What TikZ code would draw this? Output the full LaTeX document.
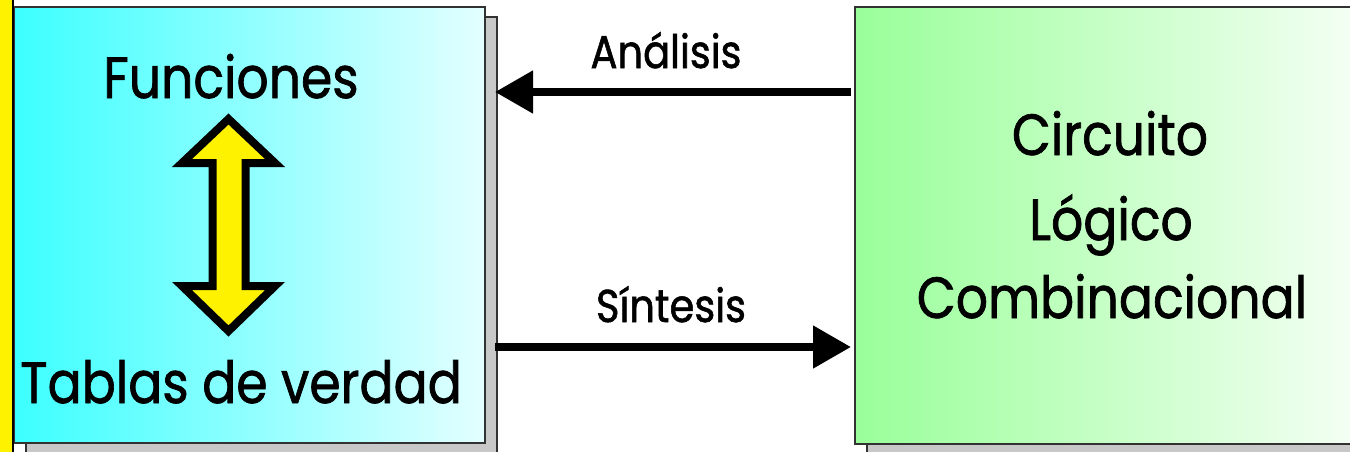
\documentclass[tikz,border=0pt]{standalone}
\usepackage{fontspec}
\setmainfont{Poppins}[FakeStretch=0.87,FakeBold=1.2]
\usetikzlibrary{arrows.meta,backgrounds,calc}
\definecolor{cyanL}{RGB}{60,255,255}
\definecolor{cyanR}{RGB}{228,255,255}
\definecolor{greenL}{RGB}{153,255,153}
\definecolor{greenR}{RGB}{252,255,252}
\definecolor{shadowgray}{RGB}{200,200,200}
\definecolor{boxline}{RGB}{50,50,50}
\begin{document}
\begin{tikzpicture}[x=1pt,y=-1pt,
  box/.style={draw=boxline, line width=1.2pt, anchor=north west, inner sep=0pt, outer sep=0pt},
  shadowbox/.style={fill=shadowgray, draw=boxline, line width=1.2pt},
  bigarrow/.style={line width=8pt, -{Triangle[length=38pt,width=41pt]}},
  bigtext/.style={font=\fontsize{58}{70}\selectfont, anchor=base, inner sep=0pt},
  smalltext/.style={font=\fontsize{46}{54}\selectfont, anchor=base, inner sep=0pt},
  bararrow/.style={fill=yellow, draw=black, line width=8pt, miter limit=10}]
\useasboundingbox (0,0) rectangle (1350,451);
\clip (0,0) rectangle (1350,451);
\node[box, minimum width=471pt, minimum height=436pt, left color=cyanL, right color=cyanR] (lbox) at (14,7) {};
\node[box, minimum width=545pt, minimum height=437pt, left color=greenL, right color=greenR] (rbox) at (855,7) {};
\begin{scope}[on background layer]
 \filldraw[shadowbox] ([shift={(12,10)}]lbox.north west) rectangle ([shift={(12,10)}]lbox.south east);
 \filldraw[shadowbox] ([shift={(12,10)}]rbox.north west) rectangle ([shift={(12,10)}]rbox.south east);
\end{scope}
\node[bigtext] (fun) at (231,98) {Funciones};
\node[bigtext, anchor=base east] (tab) at (462,403) {Tablas de verdad};
\node[bigtext] (c1) at (1110,155) {Circuito};
\node[bigtext] (c2) at (1111,240) {Lógico};
\node[bigtext] (c3) at (1112,318) {Combinacional};
\node[smalltext] (ana) at (666,68) {Análisis};
\node[smalltext] (sin) at (671,322) {Síntesis};
\draw[bigarrow] ($(rbox.west |- 0,92)+(-4,0)$) -- ($(lbox.east |- 0,92)+(10,0)$);
\draw[bigarrow] ($(lbox.east |- 0,347)+(10,0)$) -- ($(rbox.west |- 0,347)+(-4,0)$);
\filldraw[bararrow] (228.5,119) -- (275,163) -- (245.5,163) -- (245.5,286) -- (275,286) -- (228.5,331) -- (182,286) -- (212.5,286) -- (212.5,163) -- (182,163) -- cycle;
\filldraw[fill=yellow, draw=black, line width=2pt] (-5,-5) rectangle (13,460);
\end{tikzpicture}
\end{document}
